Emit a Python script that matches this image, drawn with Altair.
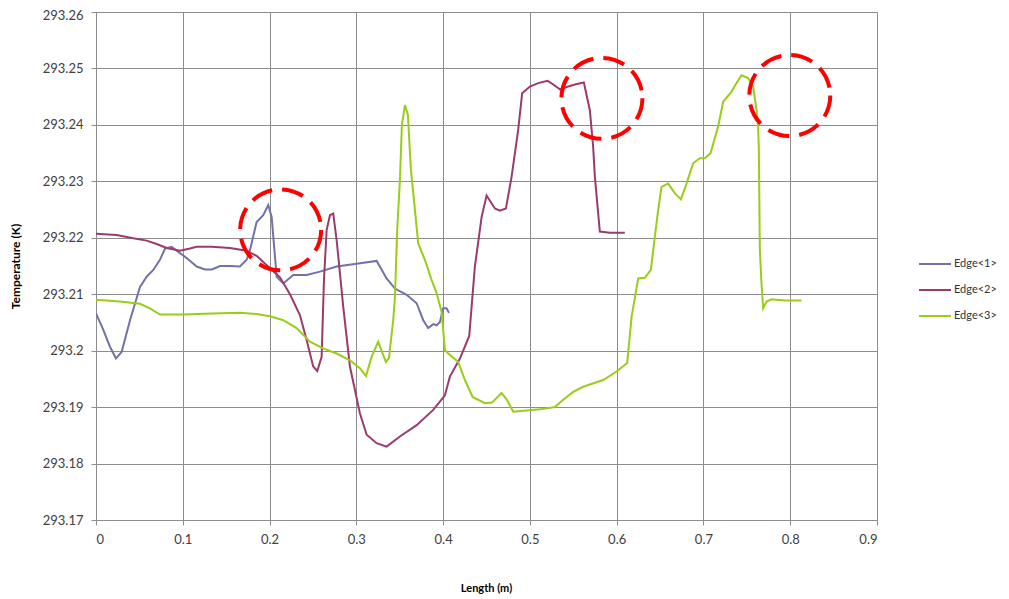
import altair as alt
import pandas as pd

# ---- data ----
edge1_x = [0.0, 0.0084, 0.0161, 0.023, 0.0296, 0.0392, 0.0507, 0.0584, 0.066, 0.0737,
           0.0795, 0.0872, 0.0948, 0.1045, 0.116, 0.1256, 0.1336, 0.1429, 0.1544, 0.1659,
           0.1736, 0.1774, 0.1851, 0.1927, 0.1985, 0.2024, 0.2082, 0.2158, 0.2273, 0.2427,
           0.2581, 0.2773, 0.3003, 0.3234, 0.3349, 0.3445, 0.3580, 0.3695, 0.3771, 0.3828,
           0.3886, 0.3925, 0.3963, 0.4001, 0.404, 0.4067]
edge1_y = [293.2066, 293.2037, 293.2007, 293.1986, 293.1998, 293.2054, 293.2113, 293.2131,
           293.2143, 293.2161, 293.2181, 293.2184, 293.2175, 293.2164, 293.2149, 293.2144,
           293.2144, 293.2150, 293.2150, 293.2149, 293.2161, 293.2178, 293.2228, 293.2240,
           293.2258, 293.2237, 293.2131, 293.2119, 293.2134, 293.2134, 293.2140, 293.2149,
           293.2154, 293.2159, 293.2128, 293.2110, 293.2099, 293.2084, 293.2054, 293.2040,
           293.2047, 293.2045, 293.2051, 293.2075, 293.2075, 293.2067]

edge2_x = [0.0, 0.0238, 0.043, 0.0584, 0.0699, 0.0815, 0.0968, 0.1083, 0.116, 0.1336,
           0.1544, 0.1736, 0.1851, 0.2005, 0.212, 0.2235, 0.235, 0.2427, 0.2503, 0.255,
           0.26, 0.2627, 0.2658, 0.2696, 0.2734, 0.2773, 0.2849, 0.2926, 0.3041, 0.3119,
           0.3234, 0.3349, 0.3502, 0.3695, 0.3886, 0.4021, 0.4078, 0.4194, 0.4301, 0.4366,
           0.4444, 0.4501, 0.4597, 0.4654, 0.4724, 0.4789, 0.4865, 0.4911, 0.5, 0.5096,
           0.5204, 0.5265, 0.5346, 0.5441, 0.553, 0.5622, 0.5691, 0.5729, 0.5749, 0.5806,
           0.5922, 0.6094]
edge2_y = [293.2207, 293.2205, 293.2199, 293.2195, 293.2189, 293.2182, 293.2177, 293.2181,
           293.2184, 293.2184, 293.2182, 293.2177, 293.2168, 293.2146, 293.2130, 293.2100,
           293.2063, 293.2019, 293.1972, 293.1964, 293.1989, 293.2125, 293.2214, 293.2240,
           293.2243, 293.2196, 293.2078, 293.1972, 293.1889, 293.1851, 293.1836, 293.1830,
           293.1848, 293.1868, 293.1895, 293.1921, 293.1954, 293.1986, 293.2026, 293.2149,
           293.2237, 293.2275, 293.2252, 293.2248, 293.2252, 293.2308, 293.2391, 293.2456,
           293.2468, 293.2474, 293.2478, 293.2472, 293.2463, 293.2468, 293.2472, 293.2475,
           293.2426, 293.2361, 293.2308, 293.2211, 293.2209, 293.2209]

edge3_x = [0.0, 0.0276, 0.0507, 0.0622, 0.0737, 0.1006, 0.1336, 0.1659, 0.1851, 0.2005,
           0.2158, 0.2312, 0.2408, 0.2465, 0.2619, 0.2773, 0.2926, 0.3041, 0.3111, 0.3176,
           0.3252, 0.3295, 0.3341, 0.3376, 0.3425, 0.3445, 0.3471, 0.3502, 0.3525, 0.356,
           0.3594, 0.3629, 0.3664, 0.3713, 0.379, 0.3868, 0.3925, 0.3983, 0.4021, 0.4059,
           0.4174, 0.4251, 0.434, 0.4482, 0.4562, 0.4674, 0.4735, 0.4808, 0.4962, 0.5115,
           0.5288, 0.5384, 0.5499, 0.5614, 0.5845, 0.5999, 0.6121, 0.6172, 0.6248, 0.6325,
           0.6394, 0.644, 0.6478, 0.6517, 0.6593, 0.667, 0.674, 0.6805, 0.6881, 0.6959,
           0.7016, 0.7082, 0.7169, 0.7227, 0.7324, 0.7381, 0.7439, 0.7515, 0.7573, 0.7612,
           0.763, 0.7638, 0.765, 0.7669, 0.7688, 0.7727, 0.7784, 0.7938, 0.813]
edge3_y = [293.2090, 293.2087, 293.2083, 293.2075, 293.2064, 293.2064, 293.2066, 293.2067,
           293.2065, 293.2061, 293.2054, 293.2040, 293.2025, 293.2016, 293.2004, 293.1995,
           293.1983, 293.1969, 293.1955, 293.1989, 293.2016, 293.1998, 293.1980, 293.1987,
           293.2054, 293.2096, 293.2214, 293.2302, 293.2400, 293.2435, 293.2418, 293.2320,
           293.2267, 293.2190, 293.2161, 293.2125, 293.2102, 293.2068, 293.2001, 293.1995,
           293.1980, 293.1948, 293.1918, 293.1907, 293.1908, 293.1925, 293.1913, 293.1892,
           293.1894, 293.1896, 293.1900, 293.1913, 293.1927, 293.1936, 293.1948, 293.1963,
           293.1978, 293.2060, 293.2128, 293.2129, 293.2143, 293.2202, 293.2249, 293.2290,
           293.2296, 293.2279, 293.2268, 293.2296, 293.2332, 293.2341, 293.2341, 293.2350,
           293.2397, 293.2441, 293.2459, 293.2474, 293.2488, 293.2483, 293.2468, 293.2426,
           293.2397, 293.2361, 293.2178, 293.2119, 293.2075, 293.2087, 293.2091, 293.2089,
           293.2089]

series_names = ["Edge<1>", "Edge<2>", "Edge<3>"]
series_colors = ["#7272A8", "#9A3B6E", "#9ACD18"]

x_ticks = [0, 0.1, 0.2, 0.3, 0.4, 0.5, 0.6, 0.7, 0.8, 0.9]
y_ticks = [293.17, 293.18, 293.19, 293.2, 293.21, 293.22, 293.23, 293.24, 293.25, 293.26]

# annotation circles (centres in data units)
circle_x = [0.2128, 0.5830, 0.7995]
circle_y = [293.2214, 293.2447, 293.2452]

rows = []
for name, xs, ys in zip(series_names, [edge1_x, edge2_x, edge3_x], [edge1_y, edge2_y, edge3_y]):
    for i, (xv, yv) in enumerate(zip(xs, ys)):
        rows.append({"x": xv, "y": yv, "series": name, "order": i})
df = pd.DataFrame(rows)
circles = pd.DataFrame({"x": circle_x, "y": circle_y})

FONT = "Lato"

x_enc = alt.X("x:Q",
              scale=alt.Scale(domain=[0, 0.9], nice=False, zero=False),
              axis=alt.Axis(values=x_ticks, format="~g", title="Length (m)",
                            titleX=390, titleY=68, titleBaseline="middle",
                            titleAlign="center", titleFontSize=11))
y_enc = alt.Y("y:Q",
              scale=alt.Scale(domain=[293.17, 293.26], nice=False, zero=False),
              axis=alt.Axis(values=y_ticks, format="~g", title="Temperature (K)",
                            titleX=-81, titleY=254, titleAngle=270,
                            titleAlign="center", titleBaseline="middle",
                            titleFontSize=12,
                            labelOffset={"condition": {"test": "datum.value > 293.255",
                                                       "value": 3},
                                         "value": 0}))

lines = alt.Chart(df).mark_line(strokeWidth=2, clip=True).encode(
    x=x_enc,
    y=y_enc,
    color=alt.Color("series:N",
                    scale=alt.Scale(domain=series_names, range=series_colors),
                    legend=alt.Legend(title=None, orient="none", legendX=822, legendY=235,
                                      symbolType="stroke", symbolSize=1024,
                                      symbolStrokeWidth=2, padding=0, rowPadding=4,
                                      labelFont=FONT, labelFontSize=11,
                                      labelColor="#333333", labelOffset=2)),
    order="order:Q",
)

rings = alt.Chart(circles).mark_point(
    shape="circle", filled=False, size=6561, stroke="#FF0000", strokeWidth=4,
    strokeDash=[22, 10], opacity=1,
).encode(x="x:Q", y="y:Q")

chart = alt.layer(lines, rings).properties(
    width=781, height=508,
    autosize=alt.AutoSizeParams(type="none"),
    padding={"left": 88, "top": 4, "right": 122, "bottom": 75},
).configure_view(stroke=None).configure_axis(
    labelFont=FONT, labelFontSize=13, labelColor="#404040",
    titleFont=FONT, titleFontWeight="bold", titleColor="#000000",
    gridColor="#8C8C8C", gridWidth=1, gridOpacity=1,
    domainColor="#8C8C8C", domainWidth=1,
    tickColor="#8C8C8C", tickSize=5, tickWidth=1,
).configure_axisX(labelPadding=8).configure_axisY(labelPadding=8)

chart.save("out.html", embed_options={"renderer": "svg", "actions": False})
